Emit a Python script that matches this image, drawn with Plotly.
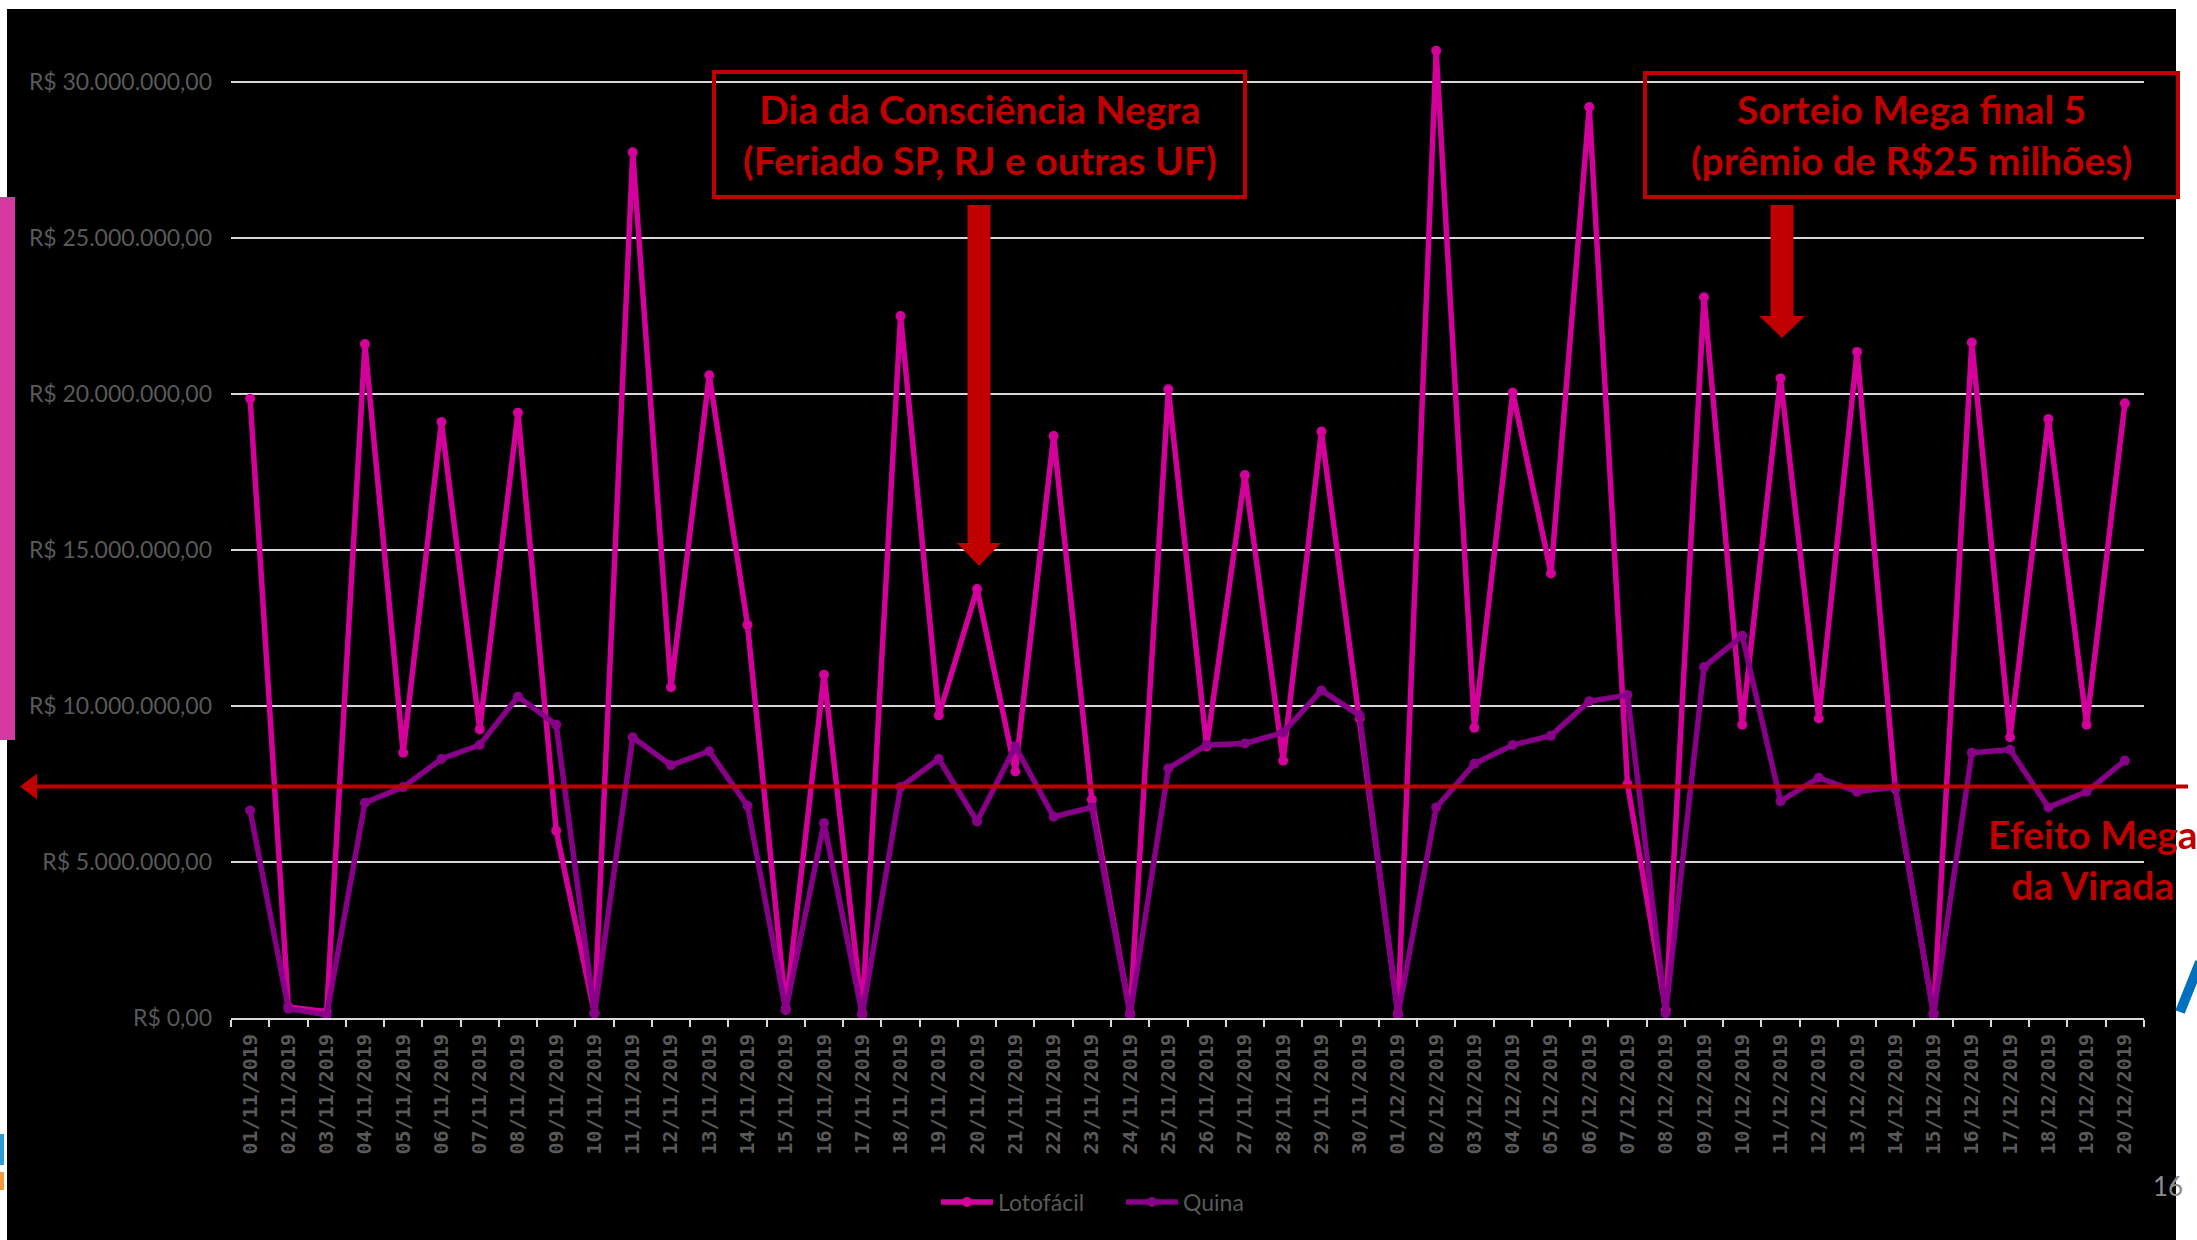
import plotly.graph_objects as go

# ---------------- data ----------------
dates = [f"{d:02d}/11/2019" for d in range(1, 31)] + [f"{d:02d}/12/2019" for d in range(1, 21)]

# values in millions of R$
lotofacil = [19.85, 0.35, 0.2, 21.6, 8.5, 19.1, 9.25, 19.4, 6.0, 0.15,
             27.75, 10.6, 20.6, 12.6, 0.3, 11.0, 0.15, 22.5, 9.7, 13.75,
             7.9, 18.65, 7.0, 0.15, 20.15, 8.7, 17.4, 8.25, 18.8, 9.6,
             0.15, 31.0, 9.3, 20.05, 14.25, 29.2, 7.5, 0.25, 23.1, 9.4,
             20.5, 9.6, 21.35, 7.35, 0.15, 21.65, 9.0, 19.2, 9.4, 19.7]
quina = [6.65, 0.3, 0.1, 6.9, 7.4, 8.3, 8.75, 10.3, 9.4, 0.15,
         9.0, 8.1, 8.55, 6.8, 0.25, 6.25, 0.1, 7.4, 8.3, 6.3,
         8.7, 6.45, 6.75, 0.1, 8.0, 8.75, 8.8, 9.15, 10.5, 9.7,
         0.1, 6.75, 8.15, 8.75, 9.05, 10.15, 10.35, 0.15, 11.25, 12.25,
         6.95, 7.7, 7.25, 7.4, 0.1, 8.5, 8.6, 6.75, 7.25, 8.25]

y_tickvals = [0, 5, 10, 15, 20, 25, 30]
y_ticktext = ["R$ 0,00", "R$ 5.000.000,00", "R$ 10.000.000,00", "R$ 15.000.000,00",
              "R$ 20.000.000,00", "R$ 25.000.000,00", "R$ 30.000.000,00"]
efeito_level = 7.42  # level of the "Efeito Mega da Virada" line (millions)

# ---------------- layout geometry ----------------
W_FIG, H_FIG = 2197, 1240
L, R, T, B = 231, 2144, 9, 1018
PW, PH = R - L, B - T
YMAX = 32.34
def px(x):
    return (x - L) / PW
def py(y):
    return (B - y) / PH

RED = "#C00000"
PINK = "#D4009B"
PURPLE = "#880088"
GRAY = "#595959"
GRID = "#D9D9D9"

fig = go.Figure()
fig.add_trace(go.Scatter(x=dates, y=lotofacil, name="Lotofácil", mode="lines+markers",
                         line=dict(color=PINK, width=5.5), marker=dict(size=10, color=PINK)))
fig.add_trace(go.Scatter(x=dates, y=quina, name="Quina", mode="lines+markers",
                         line=dict(color=PURPLE, width=5.5), marker=dict(size=10, color=PURPLE)))

shapes = []
# black slide panel
shapes.append(dict(type="rect", xref="paper", yref="paper", layer="below",
                   x0=px(7), x1=px(2176), y0=py(9), y1=py(1240),
                   fillcolor="black", line=dict(width=0)))
# pink side bar
shapes.append(dict(type="rect", xref="paper", yref="paper", layer="above",
                   x0=px(0), x1=px(15), y0=py(197), y1=py(740),
                   fillcolor="#D63AA0", line=dict(width=0)))
# annotation boxes
for (x0, x1, y0, y1) in [(714, 1245, 72, 197), (1645, 2178, 73, 197)]:
    shapes.append(dict(type="rect", xref="paper", yref="paper", layer="above",
                       x0=px(x0), x1=px(x1), y0=py(y0), y1=py(y1),
                       line=dict(color=RED, width=4), fillcolor="rgba(0,0,0,0)"))

def down_arrow(cx, top, head_top, tip, shaft_w, head_w):
    pts = [(cx - shaft_w / 2, top), (cx + shaft_w / 2, top), (cx + shaft_w / 2, head_top),
           (cx + head_w / 2, head_top), (cx, tip), (cx - head_w / 2, head_top),
           (cx - shaft_w / 2, head_top)]
    path = "M " + " L ".join(f"{px(a):.5f},{py(b):.5f}" for a, b in pts) + " Z"
    return dict(type="path", xref="paper", yref="paper", layer="above", path=path,
                fillcolor=RED, line=dict(width=0))

shapes.append(down_arrow(979, 205, 543, 566, 23, 44))
shapes.append(down_arrow(1782, 205, 316, 338, 23, 46))

# Efeito Mega da Virada line with left arrowhead
shapes.append(dict(type="line", xref="paper", yref="y", layer="above",
                   x0=px(34), x1=px(2188), y0=efeito_level, y1=efeito_level,
                   line=dict(color=RED, width=4)))
yl = B - efeito_level * PH / YMAX
head = [(20, yl), (37, yl - 13), (37, yl + 13)]
shapes.append(dict(type="path", xref="paper", yref="paper", layer="above",
                   path="M " + " L ".join(f"{px(a):.5f},{py(b):.5f}" for a, b in head) + " Z",
                   fillcolor=RED, line=dict(width=0)))

# fragments of the slide logo at the edges
shapes.append(dict(type="line", xref="paper", yref="paper", layer="above",
                   x0=px(2180), y0=py(1012), x1=px(2200), y1=py(962),
                   line=dict(color="#0070C0", width=10)))
shapes.append(dict(type="line", xref="paper", yref="paper", layer="above",
                   x0=px(2), y0=py(1134), x1=px(2), y1=py(1165),
                   line=dict(color="#2E9BD6", width=4)))
shapes.append(dict(type="line", xref="paper", yref="paper", layer="above",
                   x0=px(2), y0=py(1172), x1=px(2), y1=py(1190),
                   line=dict(color="#F39A3A", width=4)))

box_font = dict(family="Lato", size=39, color=RED, weight="bold")
annotations = [
    dict(text="Dia da Consciência Negra<br>(Feriado SP, RJ e outras UF)",
         xref="paper", yref="paper", x=px(980), y=py(135), xanchor="center", yanchor="middle",
         showarrow=False, font=box_font, align="center"),
    dict(text="Sorteio Mega final 5<br>(prêmio de R$25 milhões)",
         xref="paper", yref="paper", x=px(1911), y=py(135), xanchor="center", yanchor="middle",
         showarrow=False, font=box_font, align="center"),
    dict(text="Efeito Mega<br>da Virada",
         xref="paper", yref="paper", x=px(2093), y=py(859), xanchor="center", yanchor="middle",
         showarrow=False, font=box_font, align="center"),
    dict(text="16", xref="paper", yref="paper", x=px(2168), y=py(1186),
         xanchor="center", yanchor="middle", showarrow=False,
         font=dict(family="Lato", size=26, color="#8C8C8C")),
]

fig.update_layout(
    width=W_FIG, height=H_FIG,
    margin=dict(l=L, r=W_FIG - R, t=T, b=H_FIG - B, autoexpand=False),
    paper_bgcolor="white", plot_bgcolor="black",
    showlegend=True,
    legend=dict(orientation="h", x=px(936), xanchor="left", y=py(1202), yanchor="middle",
                font=dict(family="Lato", size=23, color=GRAY), bgcolor="rgba(0,0,0,0)",
                itemwidth=52, entrywidth=118, entrywidthmode="pixels", tracegroupgap=0),
    shapes=shapes, annotations=annotations,
    xaxis=dict(type="category", range=[-0.5, 49.5], tickson="boundaries",
               ticks="outside", ticklen=7, tickwidth=2, tickcolor=GRID,
               showline=True, linecolor=GRID, linewidth=2, showgrid=False,
               tickangle=-90, ticklabelstandoff=6,
               tickfont=dict(family="DejaVu Sans Mono", size=20, color=GRAY, weight="bold")),
    yaxis=dict(range=[0, YMAX], tickvals=y_tickvals, ticktext=y_ticktext,
               showgrid=True, gridcolor=GRID, gridwidth=2, zeroline=False,
               ticks="", ticklabelstandoff=18,
               tickfont=dict(family="Lato", size=23, color=GRAY)),
)

fig.write_html("out.html", config={"displayModeBar": False},
               post_script="document.body.style.margin='0';")
